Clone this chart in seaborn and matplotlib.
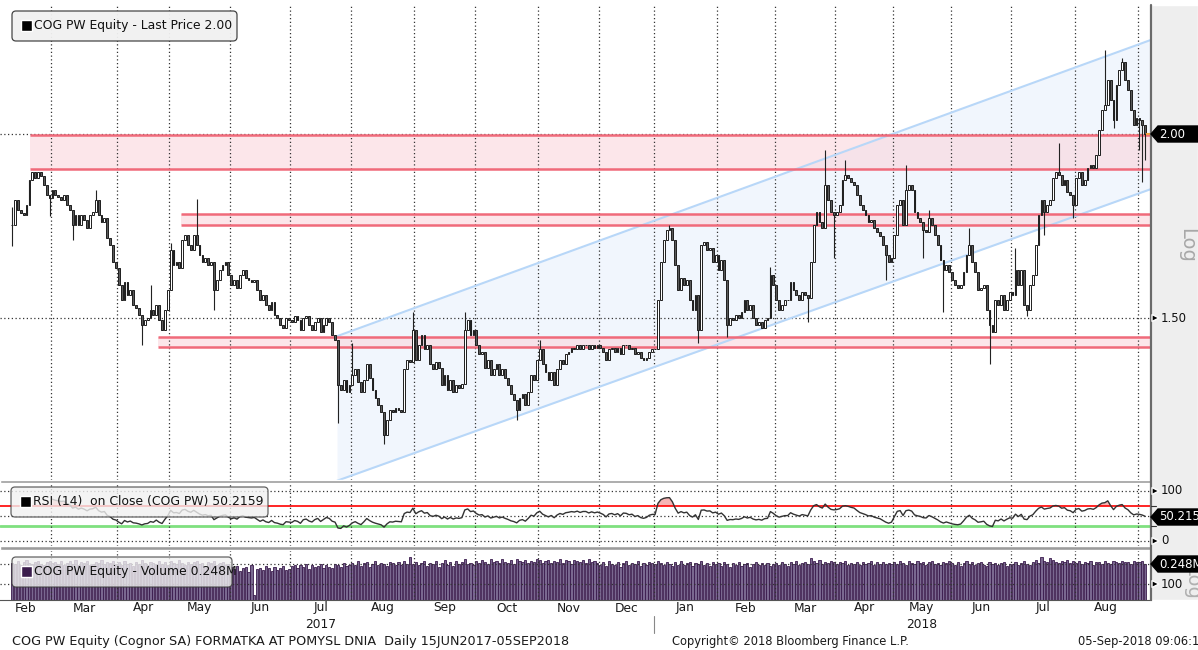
import numpy as np
import pandas as pd
import matplotlib
matplotlib.use("Agg")
import matplotlib.pyplot as plt
import seaborn as sns
from matplotlib.patches import FancyBboxPatch, Rectangle, Polygon
from matplotlib.lines import Line2D
from matplotlib.transforms import IdentityTransform, Bbox

# Trading days (Warsaw exchange holidays removed)
holidays = ['2017-04-14', '2017-04-17', '2017-05-01', '2017-05-03', '2017-06-15',
            '2017-08-15', '2017-11-01', '2017-12-25', '2017-12-26', '2018-01-01',
            '2018-03-30', '2018-04-02', '2018-05-01', '2018-05-03', '2018-05-31',
            '2018-08-15']
dates = pd.bdate_range('2017-02-09', '2018-09-05')
dates = dates[~dates.isin(pd.to_datetime(holidays))]

# Daily closes, month by month
close_2017_02 = [1.735, 1.804, 1.776, 1.767, 1.762, 1.790, 1.861, 1.885, 1.867, 1.885, 1.873, 1.847, 1.818, 1.809]
close_2017_03 = [1.832, 1.818, 1.812, 1.804, 1.818, 1.790, 1.776, 1.735, 1.762, 1.735, 1.762, 1.748, 1.727, 1.762,
                 1.770, 1.804, 1.762, 1.743, 1.754, 1.700, 1.681, 1.637, 1.622]
close_2017_04 = [1.580, 1.543, 1.587, 1.556, 1.568, 1.531, 1.524, 1.508, 1.484, 1.496, 1.500, 1.520, 1.508, 1.531,
                 1.496, 1.473, 1.520, 1.568]
close_2017_05 = [1.668, 1.630, 1.637, 1.622, 1.694, 1.708, 1.681, 1.668, 1.708, 1.681, 1.655, 1.637, 1.647, 1.630,
                 1.637, 1.568, 1.592, 1.617, 1.630, 1.637, 1.605]
close_2017_06 = [1.580, 1.592, 1.573, 1.605, 1.617, 1.597, 1.592, 1.587, 1.592, 1.568, 1.543, 1.556, 1.531, 1.520,
                 1.538, 1.508, 1.500, 1.484, 1.477, 1.500, 1.496]
close_2017_07 = [1.491, 1.505, 1.496, 1.473, 1.500, 1.505, 1.484, 1.473, 1.491, 1.500, 1.468, 1.484, 1.500, 1.491,
                 1.461, 1.450, 1.351, 1.341, 1.362, 1.337, 1.351]
close_2017_08 = [1.373, 1.384, 1.358, 1.337, 1.362, 1.395, 1.366, 1.341, 1.324, 1.310, 1.296, 1.250, 1.279, 1.300,
                 1.296, 1.304, 1.300, 1.296, 1.384, 1.405, 1.401, 1.473]
close_2017_09 = [1.405, 1.439, 1.461, 1.428, 1.439, 1.395, 1.384, 1.401, 1.388, 1.351, 1.373, 1.341, 1.362, 1.337,
                 1.351, 1.345, 1.353, 1.473, 1.496, 1.461, 1.473]
close_2017_10 = [1.439, 1.417, 1.423, 1.388, 1.405, 1.373, 1.384, 1.395, 1.373, 1.384, 1.366, 1.351, 1.331, 1.320,
                 1.300, 1.324, 1.331, 1.310, 1.337, 1.373, 1.362, 1.405]
close_2017_11 = [1.428, 1.395, 1.379, 1.362, 1.379, 1.351, 1.384, 1.405, 1.395, 1.417, 1.423, 1.432, 1.428, 1.439,
                 1.428, 1.439, 1.439, 1.428, 1.439, 1.432, 1.439]
close_2017_12 = [1.432, 1.423, 1.405, 1.428, 1.432, 1.423, 1.432, 1.417, 1.439, 1.437, 1.428, 1.432, 1.417, 1.423,
                 1.410, 1.405, 1.410, 1.423, 1.428]
close_2018_01 = [1.428, 1.543, 1.637, 1.694, 1.721, 1.727, 1.694, 1.630, 1.568, 1.597, 1.580, 1.592, 1.543, 1.520,
                 1.556, 1.473, 1.681, 1.689, 1.668, 1.673, 1.637, 1.655]
close_2018_02 = [1.617, 1.643, 1.592, 1.484, 1.500, 1.496, 1.508, 1.500, 1.515, 1.543, 1.520, 1.531, 1.500, 1.484,
                 1.491, 1.477, 1.496, 1.500, 1.605, 1.580]
close_2018_03 = [1.543, 1.520, 1.531, 1.543, 1.543, 1.587, 1.568, 1.556, 1.543, 1.563, 1.556, 1.548, 1.637, 1.735,
                 1.770, 1.743, 1.727, 1.847, 1.804, 1.770, 1.762]
close_2018_04 = [1.770, 1.790, 1.861, 1.876, 1.867, 1.855, 1.847, 1.818, 1.790, 1.776, 1.762, 1.743, 1.748, 1.727,
                 1.716, 1.706, 1.681, 1.655, 1.637, 1.647]
close_2018_05 = [1.708, 1.790, 1.804, 1.735, 1.832, 1.847, 1.832, 1.770, 1.754, 1.743, 1.721, 1.716, 1.754, 1.735,
                 1.708, 1.681, 1.643, 1.617, 1.630, 1.612]
close_2018_06 = [1.592, 1.580, 1.573, 1.580, 1.612, 1.655, 1.681, 1.637, 1.612, 1.568, 1.573, 1.580, 1.520, 1.484,
                 1.468, 1.543, 1.531, 1.556, 1.520, 1.543, 1.563]
close_2018_07 = [1.556, 1.617, 1.580, 1.617, 1.531, 1.520, 1.580, 1.605, 1.681, 1.762, 1.804, 1.770, 1.790, 1.804,
                 1.867, 1.885, 1.876, 1.847, 1.861, 1.826, 1.818, 1.790]
close_2018_08 = [1.867, 1.885, 1.847, 1.861, 1.897, 1.906, 1.897, 1.936, 2.013, 2.076, 2.093, 2.176, 2.109, 2.044,
                 2.159, 2.210, 2.238, 2.176, 2.142, 2.076, 2.028, 2.051]
close_2018_09 = [2.044, 2.028, 2.000]

# Notable wicks (day index, price)
wick_hi_day = [0, 29, 48, 55, 64, 118, 139, 157, 183, 228, 263, 282, 289, 310, 318, 332, 348, 363, 379, 385]
wick_hi = [1.785, 1.832, 1.580, 1.686, 1.807, 1.443, 1.515, 1.515, 1.450, 1.735, 1.625, 1.951, 1.921, 1.906,
           1.776, 1.727, 1.673, 1.972, 2.281, 2.252]
wick_lo_day = [0, 13, 21, 45, 70, 113, 129, 175, 238, 248, 276, 285, 303, 316, 323, 339, 352, 358, 368, 382,
               391, 392, 393]
wick_lo = [1.680, 1.760, 1.694, 1.437, 1.520, 1.273, 1.231, 1.279, 1.443, 1.456, 1.491, 1.647, 1.592, 1.647,
           1.515, 1.395, 1.505, 1.708, 1.754, 2.020, 1.951, 1.855, 1.920]

# Daily volume in thousands of shares
vol_2017_02 = [262, 248, 281, 236, 270, 295, 258, 244, 276, 289, 251, 240, 268, 283]
vol_2017_03 = [255, 272, 246, 290, 238, 263, 279, 251, 296, 242, 267, 258, 284, 236, 249, 276, 261, 293, 244, 270,
               255, 281, 247]
vol_2017_04 = [268, 240, 286, 253, 262, 231, 277, 249, 295, 259, 238, 272, 264, 246, 288, 252, 270, 241]
vol_2017_05 = [279, 257, 243, 292, 261, 236, 274, 250, 267, 283, 245, 258, 230, 276, 262, 288, 241, 255, 269, 237, 252]
vol_2017_06 = [214, 196, 228, 183, 205, 219, 176, 232, 62, 198, 211, 187, 224, 203, 179, 216, 192, 209, 226, 185, 201]
vol_2017_07 = [225, 241, 208, 232, 219, 247, 201, 236, 214, 228, 252, 210, 239, 221, 204, 246, 233, 218, 258, 227, 242]
vol_2017_08 = [263, 238, 281, 226, 254, 272, 219, 247, 290, 236, 265, 248, 223, 277, 258, 241, 269, 232, 285, 252,
               341, 246]
vol_2017_09 = [271, 236, 258, 289, 224, 263, 247, 279, 218, 254, 296, 239, 266, 228, 282, 251, 273, 305, 244, 262, 233]
vol_2017_10 = [286, 259, 301, 272, 245, 312, 268, 290, 254, 306, 277, 263, 295, 248, 318, 281, 266, 299, 257, 287,
               273, 309]
vol_2017_11 = [292, 264, 281, 303, 255, 288, 271, 310, 262, 297, 279, 248, 301, 285, 267, 294, 259, 308, 276, 289, 263]
vol_2017_12 = [241, 268, 226, 283, 252, 237, 274, 219, 261, 290, 233, 256, 247, 279, 228, 264, 240, 271, 255]
vol_2018_01 = [247, 286, 263, 232, 274, 251, 228, 266, 241, 279, 236, 258, 271, 224, 263, 249, 285, 238, 256, 229,
               268, 245]
vol_2018_02 = [254, 231, 268, 243, 220, 259, 237, 274, 226, 250, 262, 218, 247, 271, 233, 256, 241, 265, 228, 252]
vol_2018_03 = [262, 239, 275, 251, 229, 268, 246, 283, 237, 259, 272, 244, 322, 286, 263, 291, 252, 277, 258, 284, 266]
vol_2018_04 = [247, 273, 256, 282, 239, 264, 251, 277, 235, 268, 245, 259, 281, 238, 266, 252, 274, 243, 261, 249]
vol_2018_05 = [271, 248, 286, 259, 237, 278, 262, 244, 283, 255, 268, 241, 274, 289, 252, 265, 236, 271, 257, 280]
vol_2018_06 = [263, 238, 274, 229, 256, 281, 244, 267, 232, 258, 276, 241, 223, 269, 247, 261, 235, 254, 272, 228, 250]
vol_2018_07 = [245, 276, 233, 262, 288, 251, 240, 272, 296, 265, 338, 284, 271, 327, 292, 276, 259, 283, 267, 291,
               254, 278]
vol_2018_08 = [262, 281, 247, 273, 256, 289, 241, 268, 277, 253, 286, 264, 249, 282, 271, 258, 290, 267, 276, 252,
               284, 269]
vol_2018_09 = [275, 281, 248]

# Drawn levels
zone_lo = [1.894, 1.735, 1.434]
zone_hi = [1.997, 1.765, 1.456]
zone_start = [6.2, 58.6, 50.6]
chan_x = [112.7, 395.0]
chan_up = [1.458, 2.317]
chan_dn = [1.163, 1.835]

month_names = ['Jan', 'Feb', 'Mar', 'Apr', 'May', 'Jun', 'Jul', 'Aug', 'Sep', 'Oct', 'Nov', 'Dec']

close = (close_2017_02 + close_2017_03 + close_2017_04 + close_2017_05 + close_2017_06 + close_2017_07 +
         close_2017_08 + close_2017_09 + close_2017_10 + close_2017_11 + close_2017_12 + close_2018_01 +
         close_2018_02 + close_2018_03 + close_2018_04 + close_2018_05 + close_2018_06 + close_2018_07 +
         close_2018_08 + close_2018_09)
volume = (vol_2017_02 + vol_2017_03 + vol_2017_04 + vol_2017_05 + vol_2017_06 + vol_2017_07 + vol_2017_08 +
          vol_2017_09 + vol_2017_10 + vol_2017_11 + vol_2017_12 + vol_2018_01 + vol_2018_02 + vol_2018_03 +
          vol_2018_04 + vol_2018_05 + vol_2018_06 + vol_2018_07 + vol_2018_08 + vol_2018_09)
n = min(len(dates), len(close), len(volume))
dates = dates[:n]
c = np.array(close[:n])
vol = np.array(volume[:n], dtype=float)
x = np.arange(n)

o = np.r_[c[0], c[:-1]]  # open taken as previous close
hi = np.maximum(o, c)
lo = np.minimum(o, c)
for d, p in zip(wick_hi_day, wick_hi):
    hi[d] = max(hi[d], p)
for d, p in zip(wick_lo_day, wick_lo):
    lo[d] = min(lo[d], p)

# RSI(14), Wilder smoothing
delta = pd.Series(c).diff()
gain = delta.clip(lower=0).ewm(alpha=1 / 14, adjust=False, min_periods=14).mean()
loss = (-delta.clip(upper=0)).ewm(alpha=1 / 14, adjust=False, min_periods=14).mean()
rsi = 100 - 100 / (1 + gain / loss)
rsi_df = pd.DataFrame({'x': x, 'rsi': rsi}).dropna()

# month boundaries
per = dates.to_period('M')
starts = np.flatnonzero(np.r_[True, per[1:] != per[:-1]])
bounds = starts[1:] - 0.5
XLIM = (-4.2, 395.0)

sns.set_style('white')
plt.rcParams['font.family'] = ['DejaVu Sans']

W, H = 1198, 650
fig = plt.figure(figsize=(W / 100, H / 100), dpi=100, facecolor='white')


def add_ax(x0, y0, x1, y1):
    return fig.add_axes([x0 / W, 1 - y1 / H, (x1 - x0) / W, (y1 - y0) / H], facecolor='white')


def px_rect(x0, y0, x1, y1, **kw):
    r = Rectangle((x0, H - y1), x1 - x0, y1 - y0, transform=IdentityTransform(), **kw)
    fig.add_artist(r)
    return r


def ftext(xp, yp, s, **kw):
    return fig.text(xp / W, 1 - yp / H, s, **kw)


ax_p = add_ax(0, 5, 1151, 480)
ax_r = add_ax(0, 483, 1151, 546)
ax_v = add_ax(0, 550, 1151, 600)

grid_kw = dict(color='#333333', lw=0.9, ls=(0, (1, 2)), zorder=2)

# ---- price panel ----
ax_p.set_yscale('log')
ax_p.fill_between(chan_x, chan_dn, chan_up, color='#f1f6fd', lw=0, zorder=1)
ax_p.plot(chan_x, chan_up, color='#b8d7f8', lw=1.5, zorder=3)
ax_p.plot(chan_x, chan_dn, color='#b8d7f8', lw=1.5, zorder=3)
for zl, zh, zs in zip(zone_lo, zone_hi, zone_start):
    ax_p.fill_between([zs, XLIM[1]], zl, zh, color='#fbd3da', alpha=0.55, lw=0, zorder=1.5)
    ax_p.hlines([zl, zh], zs, XLIM[1], color='#f06a7a', lw=1.8, zorder=3)
for b in bounds:
    ax_p.axvline(b, **grid_kw)
for lvl in [2.0, 1.5]:
    ax_p.axhline(lvl, **grid_kw)

up = c >= o
ax_p.vlines(x, lo, hi, color='#222222', lw=0.8, zorder=4)
ax_p.bar(x[up], (c - o)[up], bottom=o[up], width=0.62, facecolor='white', edgecolor='#1e1e1e', lw=0.7, zorder=5)
ax_p.bar(x[~up], (o - c)[~up], bottom=c[~up], width=0.62, facecolor='#5a5a5a', edgecolor='#1e1e1e', lw=0.7,
         zorder=5)
ax_p.hlines(2.0, x[-1] + 0.4, XLIM[1], color='#f5a040', lw=1.5, zorder=6)
ax_p.set_xlim(XLIM)
ax_p.set_ylim(1.1644, 2.4469)

# ---- RSI panel ----
ax_r.fill_between(rsi_df['x'], 70, rsi_df['rsi'], where=rsi_df['rsi'] > 70, color='#f6b4b4', lw=0,
                  interpolate=True, zorder=1)
ax_r.fill_between(rsi_df['x'], 30, rsi_df['rsi'], where=rsi_df['rsi'] < 30, color='#a8eaa8', lw=0,
                  interpolate=True, zorder=1)
ax_r.axhline(70, color='#ff0000', lw=1.2, zorder=2)
ax_r.axhline(30, color='#7fe07f', lw=2, zorder=2)
for b in bounds:
    ax_r.axvline(b, **grid_kw)
for lvl in [0, 50, 100]:
    ax_r.axhline(lvl, **grid_kw)
sns.lineplot(data=rsi_df, x='x', y='rsi', ax=ax_r, color='#333333', lw=1, zorder=3)
ax_r.set_xlim(XLIM)
ax_r.set_ylim(-10, 116)

# ---- volume panel ----
ax_v.set_yscale('log')
ax_v.bar(x, vol, width=0.75, facecolor='#7a6890', edgecolor='#3a1a4c', lw=0.6, zorder=1)
for b in bounds:
    ax_v.axvline(b, **grid_kw)
for lvl in [248, 100]:
    ax_v.axhline(lvl, **grid_kw)
ax_v.set_xlim(XLIM)
ax_v.set_ylim(48.4, 468)

for a in [ax_p, ax_r, ax_v]:
    a.set_xlabel('')
    a.set_ylabel('')
    a.set_yticks([])
    a.set_yticks([], minor=True)
    a.set_xticks([])
    for s in a.spines.values():
        s.set_visible(False)
ax_v.spines['bottom'].set_visible(True)
ax_v.spines['bottom'].set_color('#555555')
ax_v.set_xticks(bounds)
ax_v.set_xticklabels([])
ax_v.tick_params(axis='x', length=4, width=0.8, color='#444444', direction='out')

# right strips, separators, frame line
px_rect(1151, 5, 1198, 600, facecolor='#eeeeee', zorder=-1)
px_rect(0, 480, 1151, 483, facecolor='#9c9c9c', zorder=3)
px_rect(0, 546, 1151, 550, facecolor='#9c9c9c', zorder=3)
fig.add_artist(Line2D([1151, 1151], [H - 5, H - 600], transform=IdentityTransform(), color='#6a6a6a', lw=1.6,
                      zorder=4))


def tag(yp, label):
    poly = Polygon([(1151, H - yp), (1158, H - yp + 8), (1198, H - yp + 8), (1198, H - yp - 8),
                    (1158, H - yp - 8)], closed=True, transform=IdentityTransform(), facecolor='black',
                   edgecolor='black', zorder=6)
    fig.add_artist(poly)
    ftext(1159, yp, label, color='white', fontsize=8.5, va='center', ha='left', zorder=7)


def arrow_label(yp, label):
    tri = Polygon([(1152, H - yp + 3.5), (1159, H - yp), (1152, H - yp - 3.5)], closed=True,
                  transform=IdentityTransform(), facecolor='black', zorder=6)
    fig.add_artist(tri)
    ftext(1161, yp, label, color='#111111', fontsize=8.5, va='center', ha='left', zorder=7)


ftext(1187, 245, 'Log', rotation=-90, color='#a8a8a8', fontsize=14, ha='center', va='center', zorder=5)
tag(134, '2.00')
arrow_label(318, '1.50')
arrow_label(491, '100')
arrow_label(541, '0')
for yp in [506, 526]:
    fig.add_artist(Line2D([1151, 1156], [H - yp, H - yp], transform=IdentityTransform(), color='#333333',
                          lw=0.8, zorder=5))
tag(517, '50.215')
vlog = ftext(1192, 582, 'Log', rotation=-90, color='#b0b0b0', fontsize=14, ha='center', va='center', zorder=5)
vlog.set_clip_box(Bbox([[1184, H - 600], [1198, H - 572]]))
vlog.set_clip_on(True)
tag(564, '0.248M')
arrow_label(584, '100')


# legend boxes
def legend_box(x0, y0, x1, y1, label, sq_color, alpha):
    b = FancyBboxPatch((x0, H - y1), x1 - x0, y1 - y0, boxstyle='round,pad=0,rounding_size=4',
                       transform=IdentityTransform(), facecolor='#f1f1f1', edgecolor='#3c3c3c', lw=0.9,
                       alpha=alpha, zorder=8)
    fig.add_artist(b)
    yc = (y0 + y1) / 2
    px_rect(x0 + 9, yc - 6, x0 + 20, yc + 5, facecolor=sq_color, zorder=9)
    ftext(x0 + 22, yc, label, fontsize=8.9, color='#111111', va='center', ha='left', zorder=9)


legend_box(12, 11, 237, 41, 'COG PW Equity - Last Price 2.00', 'black', 0.95)
legend_box(11, 487, 268, 517, 'RSI (14)  on Close (COG PW) 50.2159', 'black', 0.8)
legend_box(12, 557, 232, 587, 'COG PW Equity - Volume 0.248M', '#3b1d4d', 0.8)

# month labels and years
ax_to_px = lambda i: (i - XLIM[0]) / (XLIM[1] - XLIM[0]) * 1151
for k, s in enumerate(starts):
    e = starts[k + 1] - 1 if k + 1 < len(starts) else n - 1
    if e - s < 5:
        continue
    mid = (XLIM[0] + e + 0.5) / 2 if k == 0 else (s + e) / 2
    ftext(ax_to_px(mid), 608, month_names[dates[s].month - 1], fontsize=8.8, color='#1a1a1a', ha='center',
          va='center')
    if dates[s].month == 7 and dates[s].year == 2017:
        ftext(ax_to_px(mid), 625, '2017', fontsize=8.8, color='#1a1a1a', ha='center', va='center')
    if dates[s].month == 5 and dates[s].year == 2018:
        ftext(ax_to_px(mid), 625, '2018', fontsize=8.8, color='#1a1a1a', ha='center', va='center')
jan18 = starts[[dates[s].year == 2018 and dates[s].month == 1 for s in starts]][0] - 0.5
fig.add_artist(Line2D([ax_to_px(jan18)] * 2, [H - 616, H - 633], transform=IdentityTransform(),
                      color='#888888', lw=0.8))

ftext(12, 641, 'COG PW Equity (Cognor SA) FORMATKA AT POMYSL DNIA  Daily 15JUN2017-05SEP2018', fontsize=9.2,
      color='#1a1a1a', va='center', ha='left')
ftext(672, 641, 'Copyright\u00a9 2018 Bloomberg Finance L.P.', fontsize=8.3, color='#1a1a1a', va='center', ha='left')
ftext(1078, 641, '05-Sep-2018 09:06:1', fontsize=8.3, color='#1a1a1a', va='center', ha='left')

fig.savefig('out.png', dpi=100, facecolor=fig.get_facecolor())
